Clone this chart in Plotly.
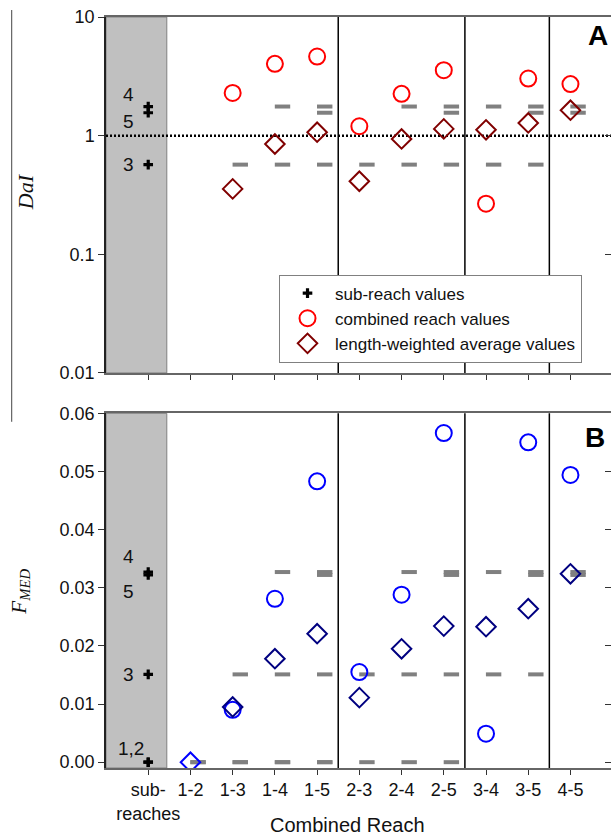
import plotly.graph_objects as go
import numpy as np

# ---------------- data ----------------
categories = ["sub-<br>reaches", "1-2", "1-3", "1-4", "1-5", "2-3", "2-4", "2-5", "3-4", "3-5", "4-5"]
combined = categories[1:]
sub_ids = [1, 2, 3, 4, 5]

# Panel A: DaI (log scale); sub-reaches 1 and 2 not defined
dai_sub = [None, None, 0.57, 1.76, 1.56]
dai_combined = [None, 2.29, 4.03, 4.64, 1.20, 2.25, 3.56, 0.267, 3.03, 2.72]
dai_weighted = [None, 0.356, 0.851, 1.07, 0.413, 0.938, 1.14, 1.12, 1.28, 1.64]

# Panel B: F_MED
fmed_sub = [0.0, 0.0, 0.0151, 0.0327, 0.0322]
fmed_combined = [None, 0.0090, 0.0281, 0.0483, 0.0155, 0.0288, 0.0566, 0.0049, 0.0550, 0.0494]
fmed_weighted = [0.0, 0.0095, 0.0178, 0.0221, 0.0111, 0.0195, 0.0234, 0.0233, 0.0264, 0.0324]

dai_ticks = [0.01, 0.1, 1, 10]
dai_ticktext = ["0.01", "0.1", "1", "10"]
fmed_ticks = [0.0, 0.01, 0.02, 0.03, 0.04, 0.05, 0.06]
dai_reference = 1.0

# ---------------- helpers ----------------
FONT = "Liberation Sans, Arial, sans-serif"
SERIF = "Liberation Serif, Times New Roman, serif"
DASH_OFFSET = 0.18
XR = [-1.0, 10.96]
BAND_RIGHT = 0.44

x_sub = [0] * len(sub_ids)
x_comb = list(range(1, len(combined) + 1))


def dash_points(sub_vals):
    xs, ys = [], []
    for i, lab in enumerate(combined):
        a, b = map(int, lab.split("-"))
        for k in range(a, b + 1):
            v = sub_vals[k - 1]
            if v is not None:
                xs.append(i + 1 + DASH_OFFSET)
                ys.append(v)
    return xs, ys


def group_boundaries():
    bounds = []
    for i in range(1, len(combined)):
        if combined[i].split("-")[0] != combined[i - 1].split("-")[0]:
            bounds.append(i + 0.5)
    return bounds


fig = go.Figure()

# ---- Panel A ----
dx, dy = dash_points(dai_sub)
fig.add_trace(go.Scatter(x=dx, y=dy, mode="markers", xaxis="x", yaxis="y", showlegend=False,
                         marker=dict(symbol="line-ew", size=11, line=dict(color="#808080", width=4))))
fig.add_trace(go.Scatter(x=XR, y=[dai_reference, dai_reference], mode="lines", xaxis="x", yaxis="y",
                         showlegend=False, line=dict(color="black", width=2.5, dash="2px,2px")))
fig.add_trace(go.Scatter(x=x_sub, y=dai_sub, mode="markers", xaxis="x", yaxis="y",
                         name="sub-reach values",
                         marker=dict(symbol="cross", size=8, color="black")))
fig.add_trace(go.Scatter(x=x_comb, y=dai_combined, mode="markers", xaxis="x", yaxis="y",
                         name="combined reach values",
                         marker=dict(symbol="circle-open", size=16, color="#FF0000", line=dict(width=2))))
fig.add_trace(go.Scatter(x=x_comb, y=dai_weighted, mode="markers", xaxis="x", yaxis="y",
                         name="length-weighted average values",
                         marker=dict(symbol="diamond-open", size=15, color="#800000", line=dict(width=2))))

# ---- Panel B ----
dx, dy = dash_points(fmed_sub)
fig.add_trace(go.Scatter(x=dx, y=dy, mode="markers", xaxis="x2", yaxis="y2", showlegend=False,
                         marker=dict(symbol="line-ew", size=11, line=dict(color="#808080", width=4))))
fig.add_trace(go.Scatter(x=x_sub, y=fmed_sub, mode="markers", xaxis="x2", yaxis="y2", showlegend=False,
                         marker=dict(symbol="cross", size=8, color="black")))
fig.add_trace(go.Scatter(x=x_comb, y=fmed_combined, mode="markers", xaxis="x2", yaxis="y2", showlegend=False,
                         marker=dict(symbol="circle-open", size=16, color="#0000FF", line=dict(width=2))))
diamond_colors = ["#0000FF"] + ["#000080"] * (len(combined) - 1)
fig.add_trace(go.Scatter(x=x_comb, y=fmed_weighted, mode="markers", xaxis="x2", yaxis="y2", showlegend=False,
                         marker=dict(symbol="diamond-open", size=15, color=diamond_colors, line=dict(width=2))))

# invisible traces to carry the right-hand tick axes
fig.add_trace(go.Scatter(x=x_sub, y=dai_sub, mode="markers", xaxis="x", yaxis="y3", showlegend=False,
                         marker=dict(opacity=0), hoverinfo="skip"))
fig.add_trace(go.Scatter(x=x_sub, y=fmed_sub, mode="markers", xaxis="x2", yaxis="y4", showlegend=False,
                         marker=dict(opacity=0), hoverinfo="skip"))

# ---------------- layout ----------------
domA = [0.526, 1.0]
domB = [0.0, 0.4723]
xcommon = dict(range=XR, tickmode="array", tickvals=list(range(len(categories))),
               ticks="outside", ticklen=5, tickcolor="#333", showline=True, linecolor="#666",
               linewidth=1.5, mirror=True, showgrid=False, zeroline=False, tickangle=0)

fig.update_layout(
    width=611, height=835,
    margin=dict(l=106, r=0, t=17, b=67),
    paper_bgcolor="white", plot_bgcolor="white",
    font=dict(family=FONT, size=18, color="#111"),
    xaxis=dict(**xcommon, anchor="y", showticklabels=False),
    xaxis2=dict(**xcommon, anchor="y2", ticktext=categories, tickfont=dict(size=18)),
    yaxis=dict(type="log", range=[-2, 1], domain=domA, anchor="x", tickmode="array",
               tickvals=dai_ticks, ticktext=dai_ticktext, ticks="outside", ticklen=6,
               tickcolor="#333", showline=True, linecolor="#222", linewidth=1.5,
               showgrid=False, zeroline=False, tickfont=dict(size=18)),
    yaxis2=dict(range=[-0.001, 0.06], domain=domB, anchor="x2", tickmode="array",
                tickvals=fmed_ticks, tickformat=".2f", ticks="outside", ticklen=6,
                tickcolor="#333", showline=True, linecolor="#222", linewidth=1.5,
                showgrid=False, zeroline=False, tickfont=dict(size=18)),
    yaxis3=dict(type="log", range=[-2, 1], overlaying="y", side="right", anchor="x",
                tickmode="array", tickvals=dai_ticks, ticks="inside", ticklen=6,
                tickcolor="#333", showticklabels=False, showline=False, showgrid=False,
                zeroline=False),
    yaxis4=dict(range=[-0.001, 0.06], overlaying="y2", side="right", anchor="x2",
                tickmode="array", tickvals=fmed_ticks, ticks="inside", ticklen=6,
                tickcolor="#333", showticklabels=False, showline=False, showgrid=False,
                zeroline=False),
    legend=dict(x=0.3426, y=0.657, xanchor="left", yanchor="top",
                bgcolor="white", bordercolor="#808080", borderwidth=1, itemwidth=45,
                font=dict(size=17, family=FONT), tracegroupgap=0),
)

shapes = []
for xa, ya in [("x", "y"), ("x2", "y2")]:
    shapes.append(dict(type="rect", xref=xa, yref=f"{ya} domain", x0=XR[0], x1=BAND_RIGHT,
                       y0=0, y1=1, fillcolor="#C0C0C0", line=dict(color="#808080", width=1),
                       layer="below"))
    for b in group_boundaries():
        shapes.append(dict(type="line", xref=xa, yref=f"{ya} domain", x0=b, x1=b, y0=0, y1=1,
                           line=dict(color="black", width=1.5)))
# stray frame line at far left of the source image
shapes.append(dict(type="line", xref="paper", yref="paper", x0=-0.1867, x1=-0.1867,
                   y0=0.461, y1=1.0093, line=dict(color="#444", width=1)))
fig.update_layout(shapes=shapes)

ann = []
# sub-reach number labels inside the grey band
labA = {3: ("3", 0), 4: ("4", 12), 5: ("5", -9)}
for k, (t, sh) in labA.items():
    ann.append(dict(x=0, y=float(np.log10(dai_sub[k - 1])), xref="x", yref="y", text=t,
                    showarrow=False, xshift=-20, yshift=sh, font=dict(size=19),
                    xanchor="center", yanchor="middle"))
labB = {1: ("1,2", 14, -17), 3: ("3", 0, -20), 4: ("4", 16, -20), 5: ("5", -17, -20)}
for k, (t, sh, xs) in labB.items():
    ann.append(dict(x=0, y=fmed_sub[k - 1], xref="x2", yref="y2", text=t,
                    showarrow=False, xshift=xs, yshift=sh, font=dict(size=19),
                    xanchor="center", yanchor="middle"))
# panel letters
ann.append(dict(x=0.974, y=0.976, xref="paper", yref="paper", text="<b>A</b>", showarrow=False,
                font=dict(size=28, color="black"), xanchor="center", yanchor="middle"))
ann.append(dict(x=0.968, y=0.4407, xref="paper", yref="paper", text="<b>B</b>", showarrow=False,
                font=dict(size=28, color="black"), xanchor="center", yanchor="middle"))
# axis titles
ann.append(dict(x=-0.1604, y=0.768, xref="paper", yref="paper", text="<i>DaI</i>", textangle=-90,
                showarrow=False, font=dict(size=22, family=SERIF), xanchor="center", yanchor="middle"))
ann.append(dict(x=-0.172, y=0.235, xref="paper", yref="paper",
                text="<i>F</i><sub><i>MED</i></sub>", textangle=-90,
                showarrow=False, font=dict(size=21, family=SERIF), xanchor="center", yanchor="middle"))
ann.append(dict(x=0.478, y=-0.0759, xref="paper", yref="paper", text="Combined Reach",
                showarrow=False, font=dict(size=20), xanchor="center", yanchor="middle"))
fig.update_layout(annotations=ann)

fig.write_html("out.html")
